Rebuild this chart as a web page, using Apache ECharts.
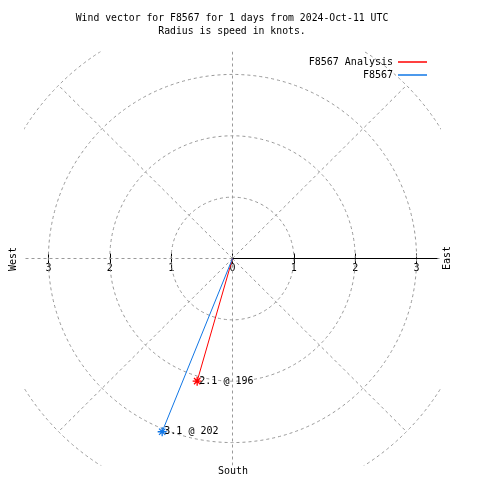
<!DOCTYPE html>
<html>
<head>
<meta charset="utf-8">
<script src="https://cdn.jsdelivr.net/npm/echarts@6/dist/echarts.min.js"></script>
<style>html,body{margin:0;padding:0;background:#fff}#c{width:480px;height:480px}</style>
</head>
<body>
<div id="c"></div>
<script>
// ---- data ----
const seriesNames = ['F8567 Analysis', 'F8567'];
const speeds = [2.09, 3.06];        // knots (labels show 2.1 and 3.1)
const directions = [196, 202];      // degrees
const tickValues = [-3, -2, -1, 0, 1, 2, 3];
const ringRadii = [1, 2, 3, 4];
const spokeAngles = [0, 45, 90, 135, 180, 225, 270, 315];
const axisEnd = 3.34;
const titleText = 'Wind vector for F8567 for 1 days from 2024-Oct-11 UTC';
const subText = 'Radius is speed in knots.';

// ---- style ----
const FONT = 'DejaVu Sans Mono';
const colors = ['#ff0000', '#1177e6'];
const gridGray = '#999999';
const XR = 3.39, YR = 3.39;
const GRID = {left: 24.5, top: 51.5, width: 416, height: 414};

const asterisk = 'path://M5,0L5,10M0,5L10,5M1.5,1.5L8.5,8.5M8.5,1.5L1.5,8.5';

const chart = echarts.init(document.getElementById('c'), null, {renderer: 'canvas'});

const vectorSeries = seriesNames.map((name, i) => {
  const rad = directions[i] * Math.PI / 180;
  const x = speeds[i] * Math.sin(rad);
  const y = speeds[i] * Math.cos(rad);
  return {
    type: 'line',
    name: name,
    z: 5,
    lineStyle: {color: colors[i], width: 1},
    itemStyle: {color: colors[i], borderColor: colors[i], borderWidth: 1.3},
    color: colors[i],
    animation: false,
    data: [
      {value: [0, 0], symbol: 'none'},
      {value: [x, y], symbol: asterisk, symbolSize: 9,
       label: {show: true, position: 'right', distance: -3,
               formatter: speeds[i].toFixed(1) + ' @ ' + directions[i],
               color: '#000', fontFamily: FONT, fontSize: 10}}
    ]
  };
});

const half = GRID.height / 2;

const option = {
  animation: false,
  backgroundColor: '#fff',
  title: {
    text: titleText,
    subtext: subText,
    left: 232, top: 13, textAlign: 'center', itemGap: 3, padding: 0,
    textStyle: {fontFamily: FONT, fontSize: 9.8, fontWeight: 'normal', color: '#000'},
    subtextStyle: {fontFamily: FONT, fontSize: 9.8, color: '#000'}
  },
  legend: {
    data: seriesNames.map((n, i) => ({name: n, itemStyle: {color: colors[i], borderWidth: 0}})),
    orient: 'vertical', right: 53, top: 56, align: 'right',
    icon: 'rect', itemWidth: 29, itemHeight: 1.5, itemGap: 1, padding: 0,
    textStyle: {fontFamily: FONT, fontSize: 10, color: '#000', lineHeight: 12}
  },
  grid: {left: GRID.left, top: GRID.top, width: GRID.width, height: GRID.height, containLabel: false},
  xAxis: [
    {type: 'value', min: -XR, max: XR, position: 'bottom', offset: -half,
     axisLine: {show: false, onZero: false},
     axisTick: {show: true, length: 5, customValues: tickValues, lineStyle: {color: '#000'}},
     axisLabel: {show: true, customValues: tickValues, margin: 5, formatter: v => String(Math.abs(v)),
                 fontFamily: FONT, fontSize: 10, color: '#000'},
     splitLine: {show: false}},
    {type: 'value', min: -XR, max: XR, position: 'top', offset: -half,
     axisLine: {show: false, onZero: false},
     axisTick: {show: true, length: 5, customValues: tickValues, lineStyle: {color: '#000'}},
     axisLabel: {show: false},
     splitLine: {show: false}}
  ],
  yAxis: [
    {type: 'value', min: -YR, max: YR,
     axisLine: {show: false, onZero: false}, axisTick: {show: false}, axisLabel: {show: false}, splitLine: {show: false}}
  ],
  graphic: [
    {type: 'text', x: 13, y: 259, rotation: Math.PI / 2,
     style: {text: 'West', align: 'center', verticalAlign: 'middle', font: '10px ' + FONT, fill: '#000'}},
    {type: 'text', x: 447, y: 258, rotation: Math.PI / 2,
     style: {text: 'East', align: 'center', verticalAlign: 'middle', font: '10px ' + FONT, fill: '#000'}},
    {type: 'text', x: 233, y: 471,
     style: {text: 'South', align: 'center', verticalAlign: 'middle', font: '10px ' + FONT, fill: '#000'}}
  ],
  series: [
    {
      type: 'custom', name: 'rings', clip: true, silent: true, z: 1,
      encode: {x: 0, y: 1},
      data: ringRadii.map(r => [r, 0]),
      renderItem: (params, api) => {
        const c = api.coord([0, 0]);
        const r = api.size([api.value(0), 0])[0];
        return {type: 'circle', shape: {cx: c[0], cy: c[1], r: r},
                style: {fill: 'none', stroke: gridGray, lineWidth: 1, lineDash: [3, 3]}};
      }
    },
    {
      type: 'custom', name: 'spokes', clip: true, silent: true, z: 1,
      encode: {x: 0, y: 1},
      data: spokeAngles.map(a => [a, 0]),
      renderItem: (params, api) => {
        const a = api.value(0) * Math.PI / 180;
        const c = api.coord([0, 0]);
        const e = api.coord([4 * Math.sin(a), 4 * Math.cos(a)]);
        return {type: 'line', shape: {x1: c[0], y1: c[1], x2: e[0], y2: e[1]},
                style: {stroke: gridGray, lineWidth: 1, lineDash: [3, 3]}};
      }
    },
    {
      type: 'custom', name: 'raxis', clip: true, silent: true, z: 2,
      encode: {x: 0, y: 1},
      data: [[axisEnd, 0]],
      renderItem: (params, api) => {
        const c = api.coord([0, 0]);
        const e = api.coord([api.value(0), 0]);
        return {type: 'line', shape: {x1: c[0], y1: c[1], x2: e[0], y2: e[1]},
                style: {stroke: '#000', lineWidth: 1}};
      }
    }
  ].concat(vectorSeries)
};

chart.setOption(option);
</script>
</body>
</html>
